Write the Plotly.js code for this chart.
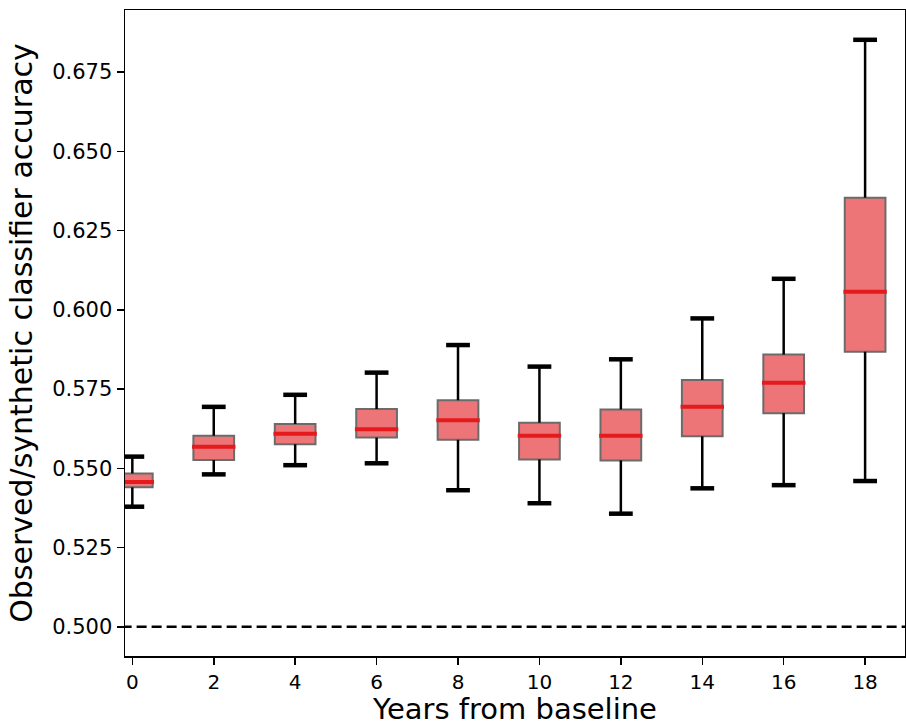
<!DOCTYPE html>
<html>
<head>
<meta charset="utf-8">
<script src="https://cdn.plot.ly/plotly-3.0.1.min.js"></script>
<style>html,body{margin:0;padding:0;background:#fff;}#chart{width:906px;height:726px;}</style>
</head>
<body>
<div id="chart"></div>
<script>
// Years from baseline
const years = [0, 2, 4, 6, 8, 10, 12, 14, 16, 18];
// Box statistics
const whiskerLow  = [0.5379, 0.5481, 0.5510, 0.5516, 0.5431, 0.5390, 0.5357, 0.5437, 0.5447, 0.5460];
const q1Values    = [0.5440, 0.5526, 0.5576, 0.5597, 0.5590, 0.5528, 0.5525, 0.5601, 0.5674, 0.5868];
const medians     = [0.5457, 0.5568, 0.5609, 0.5623, 0.5652, 0.5603, 0.5603, 0.5694, 0.5770, 0.6057];
const q3Values    = [0.5484, 0.5603, 0.5640, 0.5687, 0.5715, 0.5644, 0.5686, 0.5779, 0.5859, 0.6354];
const whiskerHigh = [0.5537, 0.5694, 0.5732, 0.5802, 0.5889, 0.5821, 0.5844, 0.5973, 0.6098, 0.6852];
// Chance level reference line
const chanceLevel = 0.5;
const chanceX = [-1, 20];
const xTickVals = [0, 2, 4, 6, 8, 10, 12, 14, 16, 18];
const yTickVals = [0.500, 0.525, 0.550, 0.575, 0.600, 0.625, 0.650, 0.675];
const yTickText = ['0.500', '0.525', '0.550', '0.575', '0.600', '0.625', '0.650', '0.675'];

const FONT = 'DejaVu Sans, sans-serif';

const traces = [
  {
    type: 'scatter', mode: 'lines',
    x: chanceX, y: chanceX.map(() => chanceLevel),
    line: {color: '#000', width: 2.5, dash: '10px,5px'},
    hoverinfo: 'skip', showlegend: false
  },
  {
    type: 'box',
    x: years, q1: q1Values, median: medians, q3: q3Values,
    lowerfence: q1Values, upperfence: q3Values,
    width: 1.0,
    fillcolor: '#ed7577',
    line: {color: '#6b6b6b', width: 2},
    boxpoints: false, showlegend: false, hoverinfo: 'skip'
  },
  // upper whiskers
  {
    type: 'scatter', mode: 'markers',
    x: years, y: q3Values,
    marker: {size: 1, color: 'rgba(0,0,0,0)'},
    error_y: {type: 'data', symmetric: false,
      array: whiskerHigh.map((v, i) => v - q3Values[i]),
      arrayminus: years.map(() => 0),
      color: '#000', thickness: 2.5, width: 0},
    showlegend: false, hoverinfo: 'skip'
  },
  // lower whiskers
  {
    type: 'scatter', mode: 'markers',
    x: years, y: q1Values,
    marker: {size: 1, color: 'rgba(0,0,0,0)'},
    error_y: {type: 'data', symmetric: false,
      array: years.map(() => 0),
      arrayminus: q1Values.map((v, i) => v - whiskerLow[i]),
      color: '#000', thickness: 2.5, width: 0},
    showlegend: false, hoverinfo: 'skip'
  },
  // caps
  {
    type: 'scatter', mode: 'markers',
    x: years.concat(years), y: whiskerHigh.concat(whiskerLow),
    marker: {symbol: 'line-ew', size: 17, color: '#000', line: {color: '#000', width: 4.5}},
    showlegend: false, hoverinfo: 'skip'
  },
  // medians
  {
    type: 'scatter', mode: 'markers',
    x: years, y: medians,
    marker: {symbol: 'line-ew', size: 31, color: '#e41a1c', line: {color: '#e41a1c', width: 4}},
    showlegend: false, hoverinfo: 'skip'
  }
];

const layout = {
  width: 906, height: 726,
  margin: {l: 125, r: 1, t: 10, b: 70},
  paper_bgcolor: '#fff', plot_bgcolor: '#fff',
  font: {family: FONT, color: '#000'},
  showlegend: false,
  xaxis: {
    range: [-0.18, 18.98],
    tickvals: xTickVals,
    ticks: 'outside', ticklen: 7, tickwidth: 1.5, tickcolor: '#000',
    tickfont: {family: FONT, size: 20, color: '#000'},
    showgrid: false, zeroline: false,
    showline: true, linecolor: '#000', linewidth: 1.5, mirror: true,
    automargin: false,
    title: {text: 'Years from baseline', font: {family: FONT, size: 29, color: '#000'}, standoff: 22}
  },
  yaxis: {
    range: [0.4908, 0.6946],
    tickvals: yTickVals, ticktext: yTickText,
    ticks: 'outside', ticklen: 7, tickwidth: 1.5, tickcolor: '#000',
    tickfont: {family: FONT, size: 21, color: '#000'},
    showgrid: false, zeroline: false,
    showline: true, linecolor: '#000', linewidth: 1.5, mirror: true,
    title: {text: 'Observed/synthetic classifier accuracy', font: {family: FONT, size: 30, color: '#000'}, standoff: 10}
  }
};

Plotly.newPlot('chart', traces, layout, {staticPlot: true, displayModeBar: false});
</script>
</body>
</html>
